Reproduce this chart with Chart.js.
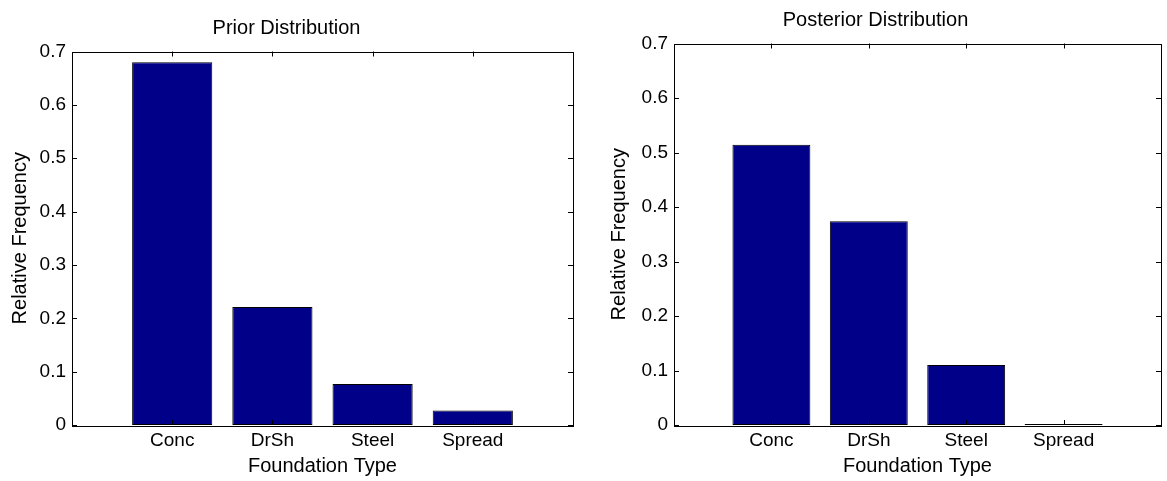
<!DOCTYPE html>
<html>
<head>
<meta charset="utf-8">
<script src="https://cdn.jsdelivr.net/npm/chart.js@4.4.1/dist/chart.umd.min.js"></script>
<style>
  html, body { margin: 0; padding: 0; background: #fff; }
  #wrap { position: relative; width: 1167px; height: 481px; }
  .box { position: absolute; top: 0; height: 481px; }
</style>
</head>
<body>
<div id="wrap">
  <div class="box" style="left:0;width:600px"><canvas id="prior"></canvas></div>
  <div class="box" style="left:590px;width:577px"><canvas id="posterior"></canvas></div>
</div>
<script>
// ---- dados ----
const categorias = ["Conc", "DrSh", "Steel", "Spread"];
const priorValores = [0.68, 0.221, 0.077, 0.027];
const posteriorValores = [0.514, 0.374, 0.110, 0.002];
const yTicks = [0, 0.1, 0.2, 0.3, 0.4, 0.5, 0.6, 0.7];

const COR_BARRA = "#000088";
const FONTE = "'Liberation Sans', Arial, Helvetica, sans-serif";

// caixa estilo matlab com ticks para dentro
const caixaPlugin = {
  id: "caixa",
  afterDraw(chart) {
    const { ctx, chartArea: a, scales } = chart;
    ctx.save();
    ctx.strokeStyle = "#000";
    ctx.lineWidth = 1;
    ctx.strokeRect(Math.round(a.left) + 0.5, Math.round(a.top) + 0.5,
      Math.round(a.right - a.left), Math.round(a.bottom - a.top));
    ctx.beginPath();
    yTicks.forEach(v => {
      const py = Math.round(scales.y.getPixelForValue(v)) + 0.5;
      ctx.moveTo(a.left, py); ctx.lineTo(a.left + 5, py);
      ctx.moveTo(a.right, py); ctx.lineTo(a.right - 5, py);
    });
    categorias.forEach((c, i) => {
      const px = Math.round(scales.x.getPixelForValue(i + 1)) + 0.5;
      ctx.moveTo(px, a.bottom); ctx.lineTo(px, a.bottom - 5);
      ctx.moveTo(px, a.top); ctx.lineTo(px, a.top + 5);
    });
    ctx.stroke();
    ctx.restore();
  }
};

function criarGrafico(id, titulo, valores, cfg) {
  const ctx = document.getElementById(id).getContext("2d");
  return new Chart(ctx, {
    type: "bar",
    data: {
      datasets: [{
        data: categorias.map((c, i) => ({ x: i + 1, y: valores[i] })),
        backgroundColor: COR_BARRA,
        borderColor: "#000",
        borderWidth: 1,
        borderSkipped: false,
        barPercentage: 1.0,
        categoryPercentage: 0.8
      }]
    },
    options: {
      responsive: true,
      maintainAspectRatio: false,
      animation: false,
      layout: { padding: { left: cfg.padLeft, right: cfg.padRight, top: 0, bottom: 0 } },
      plugins: {
        legend: { display: false },
        tooltip: { enabled: false },
        title: {
          display: true,
          text: titulo,
          color: "#000",
          font: { family: FONTE, size: 20, weight: "normal" },
          padding: { top: cfg.titleTop, bottom: cfg.titleBottom }
        }
      },
      scales: {
        x: {
          type: "linear",
          offset: false,
          min: 0,
          max: 5,
          grid: { display: false, drawTicks: false },
          border: { display: false },
          afterBuildTicks(scale) {
            scale.ticks = categorias.map((c, i) => ({ value: i + 1 }));
          },
          ticks: {
            color: "#000",
            font: { family: FONTE, size: 19 },
            padding: 4,
            maxRotation: 0,
            autoSkip: false,
            callback: v => categorias[v - 1] || ""
          },
          title: {
            display: true,
            text: "Foundation Type",
            color: "#000",
            font: { family: FONTE, size: 20 },
            padding: { top: 0, bottom: 3 }
          },
          afterFit(scale) { scale.height = 56; }
        },
        y: {
          min: 0,
          max: 0.7,
          grid: { display: false, drawTicks: false },
          border: { display: false },
          afterBuildTicks(scale) {
            scale.ticks = yTicks.map(v => ({ value: v }));
          },
          ticks: {
            color: "#000",
            font: { family: FONTE, size: 19 },
            padding: 6,
            callback: v => v === 0 ? "0" : v.toFixed(1)
          },
          title: {
            display: true,
            text: "Relative Frequency",
            color: "#000",
            font: { family: FONTE, size: 20 },
            padding: { top: cfg.yTitleTop, bottom: 0 }
          },
          afterFit(scale) { scale.width = cfg.yWidth; }
        }
      }
    },
    plugins: [caixaPlugin]
  });
}

criarGrafico("prior", "Prior Distribution", priorValores,
  { padLeft: 0, padRight: 27, yWidth: 72, yTitleTop: 8, titleTop: 16, titleBottom: 11.5 });
criarGrafico("posterior", "Posterior Distribution", posteriorValores,
  { padLeft: 0, padRight: 6, yWidth: 84, yTitleTop: 17, titleTop: 8.5, titleBottom: 11 });
</script>
</body>
</html>
